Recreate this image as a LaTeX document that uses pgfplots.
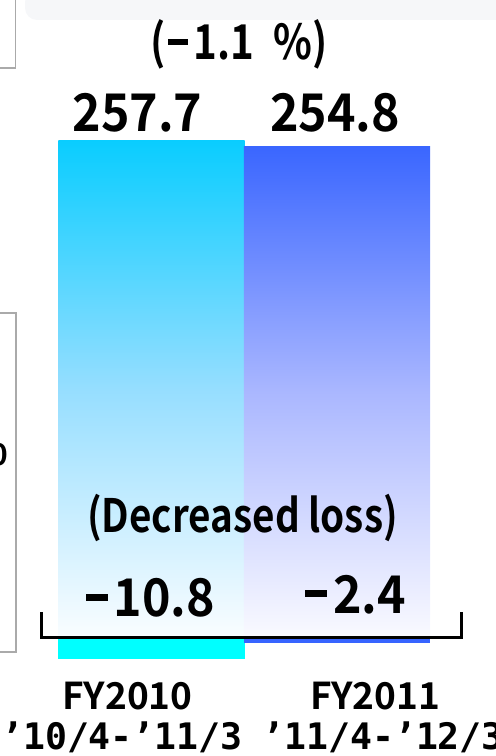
\documentclass[border=0pt]{standalone}
\usepackage{pgfplots}
\pgfplotsset{compat=1.18}
\usepackage{fontspec}
\setmainfont{Noto Sans CJK JP}
\newfontfamily\nfb{Noto Sans CJK JP Bold}
\newfontfamily\nfc{Noto Sans CJK JP Bold}[FakeStretch=0.84]
\newfontfamily\nfn{Noto Sans CJK JP Bold}[FakeStretch=0.93]
\newfontfamily\mono{DejaVu Sans Mono}[UprightFont={* Bold}]
\definecolor{cyTop}{RGB}{10,205,255}
\definecolor{cyMid}{RGB}{150,222,255}
\definecolor{cyBot}{RGB}{250,253,255}
\definecolor{blTop}{RGB}{58,102,255}
\definecolor{blMid}{RGB}{170,183,255}
\definecolor{blBot}{RGB}{250,250,255}
\definecolor{cyNeg}{RGB}{0,255,255}
\definecolor{blNeg}{RGB}{55,100,255}
\definecolor{boxGray}{RGB}{170,170,170}
\definecolor{bandGray}{RGB}{246,247,249}
\newcommand\mn{\rule[0.31em]{0.42em}{0.13em}\kern0.12em}
\begin{document}
\begin{tikzpicture}
\begin{axis}[
  scale only axis, width=496bp, height=756bp,
  xmin=-0.81671, xmax=1.85714, ymin=-61.14, ymax=330.57,
  hide axis, clip=false,
]
% background slide fragments
\fill[bandGray, rounded corners=12bp] (axis cs:-0.6819,335.75) rectangle (axis cs:1.9326,320.21);
\draw[boxGray, line width=1.5bp] (axis cs:-0.8437,295.34) -- (axis cs:-0.7332,295.34) -- (axis cs:-0.7332,333.16);
\draw[boxGray, line width=1.5bp] (axis cs:-0.8437,168.39) -- (axis cs:-0.7305,168.39) -- (axis cs:-0.7305,-7.25) -- (axis cs:-0.8437,-7.25);
\node[anchor=east, inner sep=0, font=\nfb\fontsize{30bp}{34bp}\selectfont] at (axis cs:-0.7736,94.82) {0};
% bars
\addplot[ybar, bar width=1.005, bar shift=0pt, draw=none, top color=cyTop, bottom color=cyBot, middle color=cyMid] coordinates {(0,257.7)};
\addplot[ybar, bar width=1.005, bar shift=0pt, draw=none, top color=blTop, bottom color=blBot, middle color=blMid] coordinates {(1,254.8)};
\addplot[ybar, bar width=1.005, bar shift=0pt, draw=none, fill=cyNeg] coordinates {(0,-10.8)};
\addplot[ybar, bar width=1.005, bar shift=0pt, draw=none, fill=blNeg] coordinates {(1,-2.4)};
% bracket baseline
\draw[black, line width=3bp, line cap=rect] (axis cs:-0.5930,12.95) -- (axis cs:-0.5930,0.26) -- (axis cs:1.6712,0.26) -- (axis cs:1.6712,12.95);
% labels
\node[anchor=center, inner sep=0, font=\nfc\fontsize{48bp}{55bp}\selectfont] at (axis cs:0.4717,307.5) {(\kern0.05em\mn1.1\hspace{0.4em}\%)};
\node[anchor=base, inner sep=0, font=\nfn\fontsize{52bp}{60bp}\selectfont] at (axis cs:-0.0755,262.18) {257.7};
\node[anchor=base, inner sep=0, font=\nfn\fontsize{52bp}{60bp}\selectfont] at (axis cs:0.9892,262.18) {254.8};
\node[anchor=base, inner sep=0, font=\nfc\fontsize{46bp}{52bp}\selectfont] at (axis cs:0.4906,54.92) {(Decreased loss)};
\node[anchor=base, inner sep=0, font=\nfn\fontsize{52bp}{60bp}\selectfont] at (axis cs:-0.0054,10.88) {\mn10.8};
\node[anchor=base, inner sep=0, font=\nfn\fontsize{52bp}{60bp}\selectfont] at (axis cs:1.0997,12.95) {\mn2.4};
\node[anchor=base, inner sep=0, font=\nfb\fontsize{37bp}{42bp}\selectfont] at (axis cs:-0.1294,-36.79) {FY2010};
\node[anchor=base, inner sep=0, font=\nfb\fontsize{37bp}{42bp}\selectfont] at (axis cs:1.2049,-36.79) {FY2011};
\node[anchor=base east, inner sep=0, font=\mono\fontsize{36.5bp}{42bp}\selectfont] at (axis cs:0.4933,-58.03) {’10/4-’11/3};
\node[anchor=base west, inner sep=0, font=\mono\fontsize{36.5bp}{42bp}\selectfont] at (axis cs:0.5957,-58.03) {’11/4-’12/3};
\end{axis}
\pgfresetboundingbox
\path[use as bounding box] (current axis.south west) rectangle (current axis.north east);
\end{tikzpicture}
\end{document}
